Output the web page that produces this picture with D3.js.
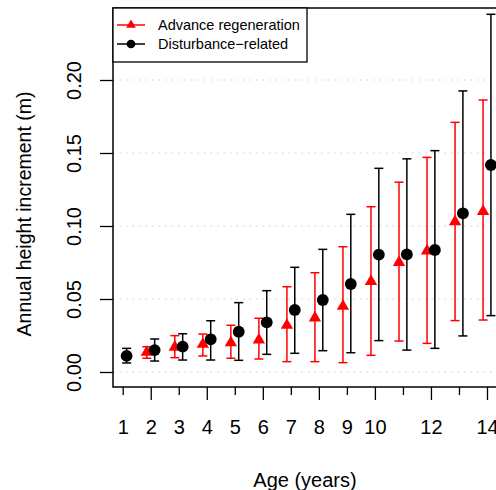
<!DOCTYPE html>
<html>
<head>
<meta charset="utf-8">
<script src="https://cdn.jsdelivr.net/npm/d3@7"></script>
<style>
  html, body { margin: 0; padding: 0; background: #fff; }
  svg { display: block; font-family: "Liberation Sans", Arial, Helvetica, sans-serif; }
</style>
</head>
<body>
<svg id="chart" width="496" height="490"></svg>
<script>
// Age classes (years)
const ages = [1, 2, 3, 4, 5, 6, 7, 8, 9, 10, 11, 12, 13, 14];
const xTickLabels = [1, 2, 3, 4, 5, 6, 7, 8, 9, 10, 12, 14];
const yTicks = [0, 0.05, 0.10, 0.15, 0.20];

// Advance regeneration: mean annual height increment (m) with lower/upper bars
const regenMean = [null, 0.0135, 0.017, 0.019, 0.020, 0.022, 0.032, 0.037, 0.045, 0.062, 0.075, 0.083, 0.103, 0.110];
const regenLow  = [null, 0.0094, 0.0098, 0.011, 0.0094, 0.0089, 0.0071, 0.0071, 0.0064, 0.0114, 0.0212, 0.0196, 0.0352, 0.0356];
const regenHigh = [null, 0.0173, 0.0249, 0.026, 0.032, 0.0368, 0.0584, 0.068, 0.0858, 0.1132, 0.130, 0.147, 0.171, 0.1863];

// Disturbance-related: mean annual height increment (m) with lower/upper bars
const distMean = [0.011, 0.015, 0.0174, 0.0224, 0.0276, 0.034, 0.0425, 0.0493, 0.0603, 0.0804, 0.0806, 0.0836, 0.1087, 0.1418];
const distLow  = [0.0062, 0.0075, 0.0082, 0.0082, 0.008, 0.0121, 0.0128, 0.0146, 0.0132, 0.0215, 0.015, 0.0162, 0.0247, 0.0386];
const distHigh = [0.0162, 0.0226, 0.0262, 0.0351, 0.0475, 0.0557, 0.0717, 0.084, 0.108, 0.1395, 0.146, 0.1516, 0.1925, 0.245];

const seriesNames = ["Advance regeneration", "Disturbance\u2212related"];
const seriesColors = ["#ff0000", "#000000"];
const offset = 0.14;

const svg = d3.select("#chart");
const plot = { left: 113, top: 8, bottom: 387, right: 530 };

const x = d3.scaleLinear().domain([1, 14]).range([122.7, 487]);
const y = d3.scaleLinear().domain([0, 0.2]).range([372, 80]);

// dotted horizontal grid
svg.append("g").selectAll("line")
  .data(yTicks)
  .join("line")
  .attr("x1", plot.left).attr("x2", plot.right)
  .attr("y1", d => y(d)).attr("y2", d => y(d))
  .attr("stroke", "#cfcfcf").attr("stroke-width", 1.2)
  .attr("stroke-dasharray", "1.5,5");

// y axis
const yAxis = svg.append("g")
  .attr("transform", `translate(${plot.left},0)`)
  .call(d3.axisLeft(y).tickValues(yTicks).tickFormat(d3.format(".2f")).tickSize(13).tickPadding(0));
yAxis.select(".domain").remove();
yAxis.selectAll(".tick line").attr("stroke", "#000").attr("stroke-width", 1.3);
yAxis.selectAll(".tick text")
  .attr("x", 0).attr("y", 0).attr("dy", 0)
  .attr("transform", "translate(-39,0) rotate(-90)")
  .attr("text-anchor", "middle")
  .attr("dominant-baseline", "central")
  .attr("font-size", 20).attr("fill", "#000")
  .style("font-family", "inherit");

// x axis: long ticks on even ages, short on odd
const xAxis = svg.append("g")
  .attr("transform", `translate(0,${plot.bottom})`)
  .call(d3.axisBottom(x).tickValues(ages).tickSize(0).tickFormat(d => xTickLabels.includes(d) ? d : ""));
xAxis.select(".domain").remove();
xAxis.selectAll(".tick line")
  .attr("y2", d => d % 2 === 0 ? 13 : 8)
  .attr("stroke", "#000").attr("stroke-width", 1.3);
xAxis.selectAll(".tick text")
  .attr("y", 47).attr("dy", 0)
  .attr("font-size", 20).attr("fill", "#000")
  .style("font-family", "inherit");

// axis titles
svg.append("text")
  .attr("transform", "translate(31,214) rotate(-90)")
  .attr("text-anchor", "middle")
  .attr("font-size", 19.5)
  .text("Annual height increment (m)");
svg.append("text")
  .attr("x", 305).attr("y", 487)
  .attr("text-anchor", "middle")
  .attr("font-size", 20)
  .text("Age (years)");

// error bars and markers
function drawSeries(means, lows, highs, dx, color, symbolType, symbolSize) {
  const g = svg.append("g");
  const rows = ages.map((a, i) => ({ a, m: means[i], lo: lows[i], hi: highs[i] }))
    .filter(d => d.m != null);
  const capW = 4.5;
  g.selectAll("line.bar").data(rows).join("line")
    .attr("x1", d => x(d.a + dx)).attr("x2", d => x(d.a + dx))
    .attr("y1", d => y(d.lo)).attr("y2", d => y(d.hi))
    .attr("stroke", color).attr("stroke-width", 1.5);
  g.selectAll("line.capHi").data(rows).join("line")
    .attr("x1", d => x(d.a + dx) - capW).attr("x2", d => x(d.a + dx) + capW)
    .attr("y1", d => y(d.hi)).attr("y2", d => y(d.hi))
    .attr("stroke", color).attr("stroke-width", 1.5);
  g.selectAll("line.capLo").data(rows).join("line")
    .attr("x1", d => x(d.a + dx) - capW).attr("x2", d => x(d.a + dx) + capW)
    .attr("y1", d => y(d.lo)).attr("y2", d => y(d.lo))
    .attr("stroke", color).attr("stroke-width", 1.5);
  g.selectAll("path").data(rows).join("path")
    .attr("transform", d => `translate(${x(d.a + dx)},${y(d.m)})`)
    .attr("d", d3.symbol().type(symbolType).size(symbolSize))
    .attr("fill", color);
}
drawSeries(regenMean, regenLow, regenHigh, -offset, seriesColors[0], d3.symbolTriangle, 66);
drawSeries(distMean, distLow, distHigh, offset, seriesColors[1], d3.symbolCircle, 110);

// plot frame
svg.append("rect")
  .attr("x", plot.left).attr("y", plot.top)
  .attr("width", plot.right - plot.left).attr("height", plot.bottom - plot.top)
  .attr("fill", "none").attr("stroke", "#000").attr("stroke-width", 1.5);

// legend
const legend = svg.append("g");
legend.append("rect")
  .attr("x", plot.left).attr("y", plot.top)
  .attr("width", 194).attr("height", 54)
  .attr("fill", "#fff").attr("stroke", "#000").attr("stroke-width", 1.3);
const legendRows = [
  { name: seriesNames[0], color: seriesColors[0], type: d3.symbolTriangle, size: 40 },
  { name: seriesNames[1], color: seriesColors[1], type: d3.symbolCircle, size: 60 }
];
legendRows.forEach((r, i) => {
  const ly = 25 + i * 19;
  legend.append("line")
    .attr("x1", 117).attr("x2", 145).attr("y1", ly).attr("y2", ly)
    .attr("stroke", r.color).attr("stroke-width", 1.5);
  legend.append("path")
    .attr("transform", `translate(131,${ly})`)
    .attr("d", d3.symbol().type(r.type).size(r.size))
    .attr("fill", r.color);
  legend.append("text")
    .attr("x", 158).attr("y", ly).attr("dy", "0.36em")
    .attr("font-size", 14.5)
    .text(r.name);
});
</script>
</body>
</html>
